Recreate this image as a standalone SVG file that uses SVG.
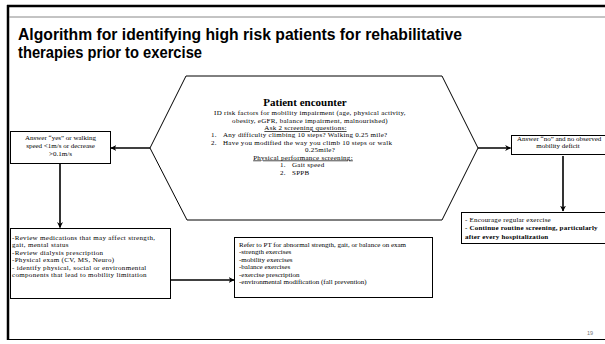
<svg xmlns="http://www.w3.org/2000/svg" width="605" height="344" viewBox="0 0 605 344">
<style>
.t{font-family:"Liberation Serif","Times New Roman",serif;font-size:7px;fill:#000}
.h{letter-spacing:0.27px}
.m{letter-spacing:0.32px}
.c{text-anchor:middle}
.b{font-weight:bold}
.u{text-decoration:underline}
.box{fill:#fff;stroke:#000;stroke-width:1}
.ln{fill:none;stroke:#000;stroke-width:1.6}
.title{font-family:"Liberation Sans",Arial,sans-serif;font-weight:bold;font-size:16px;fill:#000}
</style>
<defs>
<marker id="ah" viewBox="0 0 10 10" refX="9" refY="5" markerWidth="6" markerHeight="6" markerUnits="userSpaceOnUse" orient="auto">
<path d="M0,0 L10,5 L0,10 L3,5 Z" fill="#000"/>
</marker>
</defs>
<rect x="0" y="0" width="605" height="344" fill="#fff"/>
<g id="frame">
<line x1="7" y1="6" x2="605" y2="6" stroke="#000" stroke-width="2.5"/>
<line x1="8" y1="5" x2="8" y2="340" stroke="#000" stroke-width="2.5"/>
<line x1="9" y1="17" x2="605" y2="17" stroke="#888" stroke-width="1"/>
<line x1="7" y1="339.5" x2="605" y2="339.5" stroke="#000" stroke-width="1"/>
</g>
<g id="title">
<text class="title" x="18" y="40" textLength="444" lengthAdjust="spacingAndGlyphs">Algorithm for identifying high risk patients for rehabilitative</text>
<text class="title" x="18" y="58" textLength="184" lengthAdjust="spacingAndGlyphs">therapies prior to exercise</text>
</g>
<g id="connectors">
<line class="ln" x1="150" y1="148" x2="111" y2="148" marker-end="url(#ah)"/>
<line class="ln" x1="60" y1="163" x2="60" y2="227.5" marker-end="url(#ah)"/>
<line class="ln" x1="170" y1="280" x2="234" y2="280" marker-end="url(#ah)"/>
<line class="ln" x1="478" y1="148" x2="510.5" y2="148" marker-end="url(#ah)"/>
<line class="ln" x1="563" y1="156" x2="563" y2="211" marker-end="url(#ah)"/>
</g>
<g id="patient-encounter">
<polygon points="150,148 186,76 442,76 478,148 442,220 187,220" fill="#fff" stroke="#000" stroke-width="1"/>
<text class="t c b" x="305" y="106" style="font-size:11px">Patient encounter</text>
<text class="t h c" x="310" y="115">ID risk factors for mobility impairment (age, physical activity,</text>
<text class="t h c" x="310" y="122.5">obesity, eGFR, balance impairment, malnourished)</text>
<text class="t h c u" x="305.5" y="130">Ask 2 screening questions:</text>
<text class="t h" x="211" y="137">1.</text>
<text class="t h" x="223" y="137">Any difficulty climbing 10 steps? Walking 0.25 mile?</text>
<text class="t h" x="211" y="144.5">2.</text>
<text class="t h" x="223" y="144.5">Have you modified the way you climb 10 steps or walk</text>
<text class="t h c" x="320" y="152">0.25mile?</text>
<text class="t h c u" x="303" y="159.5">Physical performance screening:</text>
<text class="t h" x="280" y="167">1.</text>
<text class="t h" x="292" y="167">Gait speed</text>
<text class="t h" x="280" y="174.5">2.</text>
<text class="t h" x="292" y="174.5">SPPB</text>
</g>
<g id="answer-yes">
<rect class="box" x="10.5" y="131.5" width="100" height="32"/>
<text class="t c" x="60.5" y="139.5">Answer “yes” or walking</text>
<text class="t c" x="60.5" y="147.5">speed &lt;1m/s or decrease</text>
<text class="t c" x="60.5" y="155.5">&gt;0.1m/s</text>
</g>
<g id="review">
<rect class="box" x="10.5" y="228.5" width="160" height="70"/>
<text class="t m" x="12" y="239.5">-Review medications that may affect strength,</text>
<text class="t m" x="12" y="247">gait, mental status</text>
<text class="t m" x="12" y="254.5">-Review dialysis prescription</text>
<text class="t m" x="12" y="262">-Physical exam (CV, MS, Neuro)</text>
<text class="t m" x="12" y="269.5">- identify physical, social or environmental</text>
<text class="t m" x="12" y="277">components that lead to mobility limitation</text>
</g>
<g id="refer-pt">
<rect class="box" x="234.5" y="237.5" width="198" height="60"/>
<text class="t" x="239" y="246.5">Refer to PT for abnormal strength, gait, or balance on exam</text>
<text class="t" x="239" y="254">-strength exercises</text>
<text class="t" x="239" y="261.5">-mobility exercises</text>
<text class="t" x="239" y="269">-balance exercises</text>
<text class="t" x="239" y="276.5">-exercise prescription</text>
<text class="t" x="239" y="284">-environmental modification (fall prevention)</text>
</g>
<g id="answer-no">
<rect class="box" x="511.5" y="135.5" width="96" height="19"/>
<text class="t" x="517" y="141">Answer “no” and no observed</text>
<text class="t c" x="558" y="148">mobility deficit</text>
</g>
<g id="encourage">
<rect class="box" x="461.5" y="212.5" width="146" height="31"/>
<text class="t" x="465" y="221.5" style="letter-spacing:0.2px">- Encourage regular exercise</text>
<text class="t b" x="465" y="230" style="letter-spacing:0.2px">- Continue routine screening, particularly</text>
<text class="t b" x="465" y="238.5" style="letter-spacing:0.2px">after every hospitalization</text>
</g>
<text x="587" y="335" font-family="Liberation Sans, sans-serif" font-size="5.5" fill="#777">19</text>
</svg>
